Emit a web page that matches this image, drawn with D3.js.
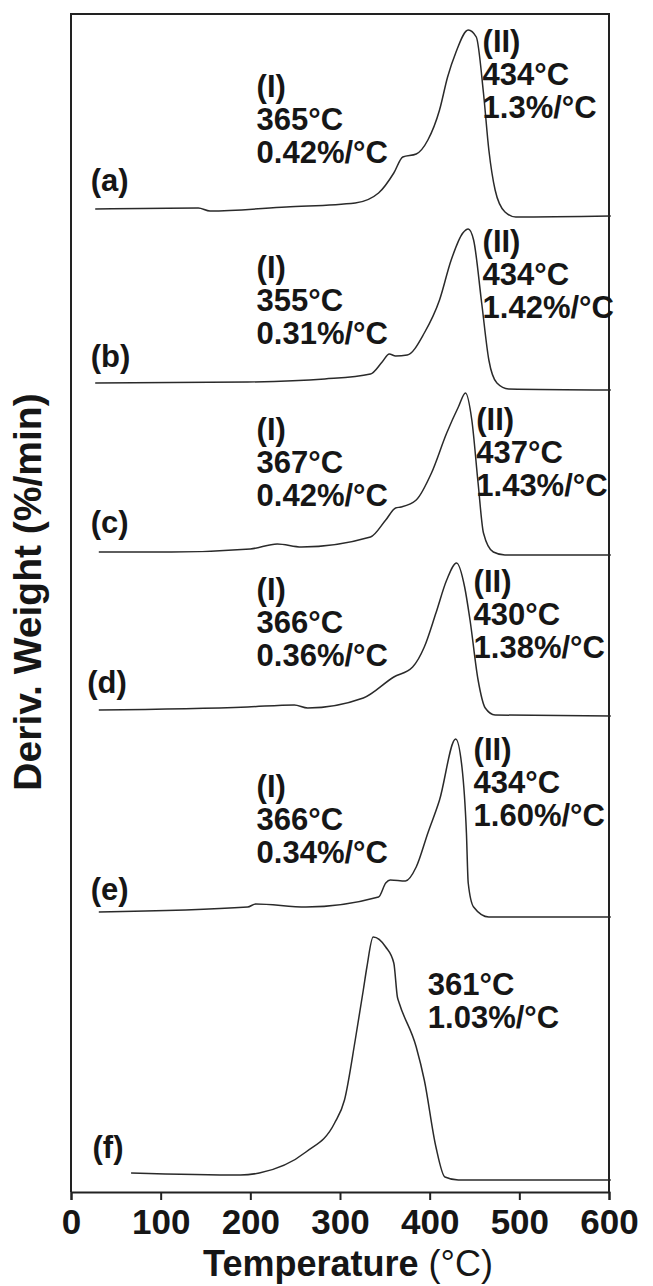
<!DOCTYPE html>
<html>
<head>
<meta charset="utf-8">
<script src="https://cdn.jsdelivr.net/npm/d3@7"></script>
<style>
  body { margin: 0; background: #fff; }
  svg { display: block; }
  text { font-family: "Liberation Sans", Arial, sans-serif; fill: #161616; }
</style>
</head>
<body>
<div id="graphique"></div>
<script>
// ===============================
// Donnees
// ===============================
const echantillons = ["(a)", "(b)", "(c)", "(d)", "(e)", "(f)"];
// decalage vertical de chaque courbe (unites arbitraires)
const decalages = [9.81, 8.07, 6.40, 4.81, 2.81, 0.16];

const tempA = [27, 142, 155, 240, 317, 343, 360, 370, 385, 398, 411, 420, 429, 443, 452, 460, 466, 473, 484, 496, 602];
const derivA = [0.02, 0.03, 0, 0.04, 0.08, 0.18, 0.38, 0.54, 0.57, 0.71, 1.01, 1.34, 1.58, 1.81, 1.74, 1.18, 0.61, 0.21, -0.01, -0.06, -0.05];

const tempB = [27, 197, 283, 334, 347, 355, 362, 375, 394, 411, 424, 437, 443, 449, 458, 466, 475, 488, 602];
const derivB = [0.02, 0.03, 0.06, 0.11, 0.23, 0.31, 0.29, 0.30, 0.52, 0.85, 1.25, 1.52, 1.56, 1.45, 0.82, 0.25, 0.02, -0.04, -0.05];

const tempC = [31, 112, 200, 230, 257, 334, 351, 362, 368, 385, 402, 419, 432, 440, 447, 454, 460, 471, 484, 602];
const derivC = [0, 0, 0.03, 0.08, 0.05, 0.15, 0.32, 0.44, 0.45, 0.52, 0.79, 1.19, 1.45, 1.59, 1.32, 0.69, 0.19, 0, -0.03, -0.03];

const tempD = [31, 197, 249, 264, 326, 360, 381, 394, 407, 419, 430, 439, 445, 454, 462, 473, 602];
const derivD = [0.01, 0.04, 0.06, 0.03, 0.13, 0.34, 0.44, 0.64, 0.98, 1.31, 1.48, 1.24, 0.91, 0.31, 0.03, -0.04, -0.05];

const tempE = [31, 197, 206, 262, 343, 351, 356, 373, 385, 398, 411, 429, 436, 441, 443, 449, 466, 602];
const derivE = [-0.01, 0.04, 0.07, 0.04, 0.14, 0.28, 0.31, 0.30, 0.44, 0.78, 1.11, 1.72, 1.44, 0.78, 0.28, 0.04, -0.06, -0.06];

const tempF = [67, 189, 210, 262, 294, 305, 317, 326, 330, 337, 351, 360, 364, 366, 385, 394, 407, 417, 432, 602];
const derivF = [0.03, 0.01, 0.03, 0.24, 0.53, 0.76, 1.36, 1.86, 2.09, 2.39, 2.29, 2.13, 1.79, 1.73, 1.29, 0.96, 0.29, -0.01, -0.04, -0.04];

const pic1Temp = ["365°C", "355°C", "367°C", "366°C", "366°C", null];
const pic1Taux = ["0.42%/°C", "0.31%/°C", "0.42%/°C", "0.36%/°C", "0.34%/°C", null];
const pic2Temp = ["434°C", "434°C", "437°C", "430°C", "434°C", "361°C"];
const pic2Taux = ["1.3%/°C", "1.42%/°C", "1.43%/°C", "1.38%/°C", "1.60%/°C", "1.03%/°C"];

const ticksTemp = [0, 100, 200, 300, 400, 500, 600];

const courbes = [
    [tempA, derivA], [tempB, derivB], [tempC, derivC],
    [tempD, derivD], [tempE, derivE], [tempF, derivF]
];

// Mise en page des annotations (x en °C, y en px au-dessus de la ligne de base)
const miseEnPage = [
    { xI: 207, yI: 114, xII: 459, yII: 159, xL: 22, yL: 20, romain: true },
    { xI: 207, yI: 107, xII: 459, yII: 133, xL: 22, yL: 18, romain: true },
    { xI: 207, yI: 112, xII: 452, yII: 122, xL: 22, yL: 19, romain: true },
    { xI: 207, yI: 111, xII: 449, yII: 119, xL: 18, yL: 18, romain: true },
    { xI: 207, yI: 114, xII: 449, yII: 151, xL: 22, yL: 11, romain: true },
    { xI: 207, yI: 0, xII: 398, yII: 181, xL: 24, yL: 18, romain: false }
];

// ===============================
// Cadre et echelles
// ===============================
const largeur = 653, hauteur = 1286;
const marge = { gauche: 71, droite: 609, haut: 14, bas: 1192 };
const interligne = 33;

const svg = d3.select("#graphique").append("svg")
    .attr("width", largeur)
    .attr("height", hauteur);

const x = d3.scaleLinear().domain([0, 600]).range([marge.gauche, marge.droite]);
const y = d3.scaleLinear().domain([0, 11.78]).range([marge.bas, marge.haut]);

// Axe des temperatures
const axeX = d3.axisBottom(x)
    .tickValues(ticksTemp)
    .tickSize(8)
    .tickPadding(9)
    .tickFormat(d3.format("d"));

const gAxe = svg.append("g")
    .attr("transform", `translate(0,${marge.bas})`)
    .call(axeX);
gAxe.select(".domain").attr("stroke", "#222").attr("stroke-width", 2);
gAxe.selectAll(".tick line").attr("stroke", "#222").attr("stroke-width", 2);
gAxe.selectAll(".tick text")
    .attr("font-size", 35)
    .attr("font-weight", "bold")
    .attr("font-family", "Liberation Sans, Arial, sans-serif")
    .attr("fill", "#161616");

// Cadre (gauche, haut, droite)
svg.append("path")
    .attr("d", `M${marge.gauche},${marge.bas}V${marge.haut}H${marge.droite}V${marge.bas}`)
    .attr("fill", "none")
    .attr("stroke", "#222")
    .attr("stroke-width", 2);

// ===============================
// Courbes
// ===============================
const ligne = d3.line()
    .x(d => x(d[0]))
    .y(d => y(d[1]))
    .curve(d3.curveMonotoneX);

courbes.forEach(function (c, i) {
    const points = c[0].map((t, k) => [t, c[1][k] + decalages[i]]);
    svg.append("path")
        .datum(points)
        .attr("d", ligne)
        .attr("fill", "none")
        .attr("stroke", "#2a2a2a")
        .attr("stroke-width", 1.5)
        .attr("stroke-linejoin", "round");
});

// ===============================
// Annotations
// ===============================
function ecrireLignes(tx, yBase, lignes) {
    lignes.forEach(function (contenu, k) {
        svg.append("text")
            .attr("x", x(tx))
            .attr("y", yBase + k * interligne)
            .attr("font-size", 31)
            .attr("font-weight", "bold")
            .text(contenu);
    });
}

echantillons.forEach(function (nom, i) {
    const p = miseEnPage[i];
    const base = y(decalages[i]);

    svg.append("text")
        .attr("x", x(p.xL))
        .attr("y", base - p.yL)
        .attr("font-size", 31)
        .attr("font-weight", "bold")
        .text(nom);

    if (p.romain) {
        ecrireLignes(p.xI, base - p.yI, ["(I)", pic1Temp[i], pic1Taux[i]]);
        ecrireLignes(p.xII, base - p.yII, ["(II)", pic2Temp[i], pic2Taux[i]]);
    } else {
        ecrireLignes(p.xII, base - p.yII, [pic2Temp[i], pic2Taux[i]]);
    }
});

// ===============================
// Titres des axes
// ===============================
const titreX = svg.append("text")
    .attr("x", 348)
    .attr("y", 1276)
    .attr("text-anchor", "middle")
    .attr("font-size", 36);
titreX.append("tspan").attr("font-weight", "bold").text("Temperature ");
titreX.append("tspan").attr("font-weight", "normal").text("(°C)");

svg.append("text")
    .attr("transform", "translate(41,592) rotate(-90)")
    .attr("text-anchor", "middle")
    .attr("font-size", 39)
    .attr("font-weight", "bold")
    .text("Deriv. Weight (%/min)");
</script>
</body>
</html>
